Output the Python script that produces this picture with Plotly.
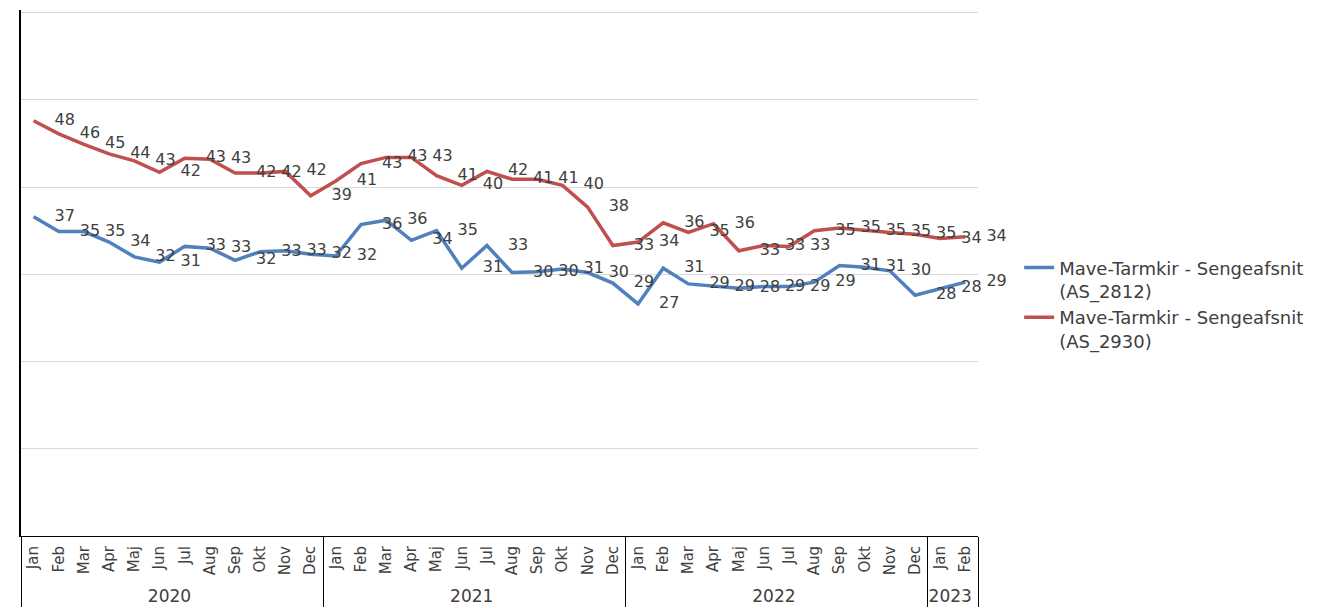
import plotly.graph_objects as go

# ---- data ----
month_names = ["Jan", "Feb", "Mar", "Apr", "Maj", "Jun", "Jul", "Aug", "Sep", "Okt", "Nov", "Dec"]
years = ["2020"] * 12 + ["2021"] * 12 + ["2022"] * 12 + ["2023"] * 2
months = month_names * 3 + month_names[:2]

blue_name = "Mave-Tarmkir - Sengeafsnit<br>(AS_2812)"
blue_values = [36.6, 34.9, 34.9, 33.7, 32.0, 31.4, 33.2, 33.0, 31.6, 32.6, 32.7, 32.3,
               32.1, 35.7, 36.2, 33.9, 35.0, 30.7, 33.3, 30.2, 30.3, 30.6, 30.2, 29.0,
               26.6, 30.7, 28.9, 28.6, 28.4, 28.6, 28.6, 29.1, 31.0, 30.8, 30.4, 27.6,
               28.4, 29.1]

red_name = "Mave-Tarmkir - Sengeafsnit<br>(AS_2930)"
red_values = [47.6, 46.1, 44.9, 43.8, 43.0, 41.7, 43.3, 43.2, 41.6, 41.6, 41.8, 39.0,
              40.7, 42.7, 43.4, 43.4, 41.3, 40.2, 41.8, 40.9, 40.9, 40.2, 37.7, 33.3,
              33.7, 35.9, 34.8, 35.8, 32.7, 33.3, 33.2, 35.0, 35.3, 35.0, 34.8, 34.6,
              34.1, 34.3]

y_range = [0, 60.3]
y_ticks = [0, 10, 20, 30, 40, 50, 60]

# ---- styles ----
FONT = "DejaVu Sans"
TXT = "#404040"
BLUE = "rgb(79,129,189)"
RED = "rgb(192,80,77)"

# larger font for the outer (year) level of the category axis
year_labels = ["<span style='font-size:17px'>%s</span>" % y for y in years]

fig = go.Figure()
for name, vals, col in [(blue_name, blue_values, BLUE), (red_name, red_values, RED)]:
    fig.add_trace(go.Scatter(
        x=[year_labels, months], y=vals, name=name,
        mode="lines+markers+text",
        line=dict(color=col, width=3.5),
        marker=dict(size=32, color="rgba(0,0,0,0)"),
        text=vals, texttemplate="%{y:.0f}", textposition="middle right",
        textfont=dict(family=FONT, size=16, color=TXT),
        cliponaxis=False,
    ))

n_cat = len(months)
fig.update_layout(
    width=1336, height=600,
    margin=dict(l=13, r=366, t=2, b=72),
    paper_bgcolor="white", plot_bgcolor="white",
    font=dict(family=FONT, color=TXT),
    showlegend=True,
    legend=dict(x=1.043, y=0.545, xanchor="left", yanchor="top",
                font=dict(family=FONT, size=18, color=TXT),
                valign="top", bgcolor="rgba(0,0,0,0)"),
    xaxis=dict(type="multicategory", range=[-0.5, n_cat - 0.5],
               showgrid=False, showline=True, linecolor="black",
               linewidth=1, ticks="", tickangle=-90, ticklabelstandoff=3,
               tickfont=dict(family=FONT, size=15, color=TXT),
               showdividers=True, dividercolor="black", dividerwidth=1),
    yaxis=dict(range=y_range, tickvals=y_ticks, showticklabels=False,
               showgrid=True, gridcolor="#D9D9D9", gridwidth=1,
               showline=True, linecolor="black", linewidth=1.5, zeroline=False),
)

fig.write_html("out.html")
